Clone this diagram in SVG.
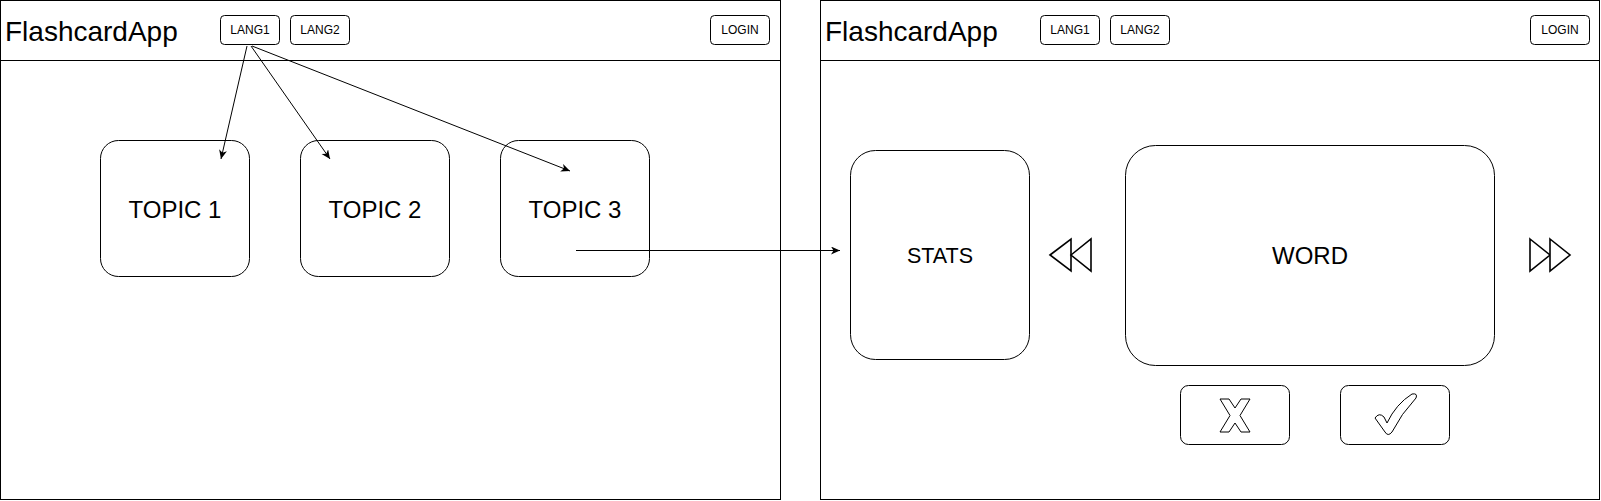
<svg xmlns="http://www.w3.org/2000/svg" width="1601" height="501" viewBox="0 0 1601 501">
<style>
.frame{fill:#fff;stroke:#000;stroke-width:1}
.hdr{stroke:#000;stroke-width:1}
.box{fill:#fff;stroke:#000;stroke-width:1}
.t{font-family:"Liberation Sans",Arial,sans-serif;fill:#000}
.icon{fill:#fff;stroke:#000;stroke-width:1.6;stroke-linejoin:miter}
.glyph{fill:#fff;stroke:#000;stroke-width:1;stroke-linejoin:round}
.edge{fill:none;stroke:#000;stroke-width:1}
</style>
<defs>
<marker id="arr" markerUnits="userSpaceOnUse" markerWidth="10" markerHeight="10" refX="9" refY="4" orient="auto">
<path d="M0,0 L9,4 L0,8 L2.5,4 Z" fill="#000"/>
</marker>
</defs>
<rect width="1601" height="501" fill="#fff"/>
<g id="screen-left">
<rect class="frame" x="0.5" y="0.5" width="780" height="499"/>
<line class="hdr" x1="0.5" y1="60.5" x2="780.5" y2="60.5"/>
<text class="t" x="5" y="40.5" font-size="28">FlashcardApp</text>
</g>
<g id="screen-right">
<rect class="frame" x="820.5" y="0.5" width="779" height="499"/>
<line class="hdr" x1="820.5" y1="60.5" x2="1599.5" y2="60.5"/>
<text class="t" x="825" y="40.5" font-size="28">FlashcardApp</text>
</g>
<g id="lang1-left"><rect class="box" x="220.5" y="15.5" width="59" height="29" rx="4"/><text class="t" x="250" y="34.3" font-size="12" text-anchor="middle">LANG1</text></g>
<g id="lang2-left"><rect class="box" x="290.5" y="15.5" width="59" height="29" rx="4"/><text class="t" x="320" y="34.3" font-size="12" text-anchor="middle">LANG2</text></g>
<g id="login-left"><rect class="box" x="710.5" y="15.5" width="59" height="29" rx="4"/><text class="t" x="740" y="34.3" font-size="12" text-anchor="middle">LOGIN</text></g>
<g id="lang1-right"><rect class="box" x="1040.5" y="15.5" width="59" height="29" rx="4"/><text class="t" x="1070" y="34.3" font-size="12" text-anchor="middle">LANG1</text></g>
<g id="lang2-right"><rect class="box" x="1110.5" y="15.5" width="59" height="29" rx="4"/><text class="t" x="1140" y="34.3" font-size="12" text-anchor="middle">LANG2</text></g>
<g id="login-right"><rect class="box" x="1530.5" y="15.5" width="59" height="29" rx="4"/><text class="t" x="1560" y="34.3" font-size="12" text-anchor="middle">LOGIN</text></g>
<g id="topic1"><rect class="box" x="100.5" y="140.5" width="149" height="136" rx="18"/><text class="t" x="175" y="218" font-size="24" text-anchor="middle">TOPIC 1</text></g>
<g id="topic2"><rect class="box" x="300.5" y="140.5" width="149" height="136" rx="18"/><text class="t" x="375" y="218" font-size="24" text-anchor="middle">TOPIC 2</text></g>
<g id="topic3"><rect class="box" x="500.5" y="140.5" width="149" height="136" rx="18"/><text class="t" x="575" y="218" font-size="24" text-anchor="middle">TOPIC 3</text></g>
<g id="stats"><rect class="box" x="850.5" y="150.5" width="179" height="209" rx="25"/><text class="t" x="940" y="263" font-size="21.5" text-anchor="middle">STATS</text></g>
<g id="word"><rect class="box" x="1125.5" y="145.5" width="369" height="220" rx="30"/><text class="t" x="1310" y="264" font-size="24" text-anchor="middle">WORD</text></g>
<g id="rewind">
<polygon class="icon" points="1050,255 1071,239 1071,271"/>
<polygon class="icon" points="1071,255 1091,239 1091,271"/>
</g>
<g id="forward">
<polygon class="icon" points="1530,239 1550,255 1530,271"/>
<polygon class="icon" points="1550,239 1570,255 1550,271"/>
</g>
<g id="btn-wrong">
<rect class="box" x="1180.5" y="385.5" width="109" height="59" rx="8"/>
<polygon class="glyph" points="1220,399 1229,399 1235,408 1241,399 1250,399 1240,415.5 1250,432 1241,432 1235,423 1229,432 1220,432 1230,415.5"/>
</g>
<g id="btn-right">
<rect class="box" x="1340.5" y="385.5" width="109" height="59" rx="8"/>
<path class="glyph" d="M1375,418 Q1379,412 1384,417 L1387,423 Q1396,404 1412,394 Q1418,393 1416,398 Q1401,414 1392,432 Q1388,437 1385,432 Z"/>
</g>
<g id="connectors">
<line class="edge" x1="247" y1="46" x2="221" y2="159" marker-end="url(#arr)"/>
<line class="edge" x1="251" y1="46" x2="330" y2="159" marker-end="url(#arr)"/>
<line class="edge" x1="252" y1="46" x2="570" y2="171" marker-end="url(#arr)"/>
<line class="edge" x1="576" y1="250.5" x2="840" y2="250.5" marker-end="url(#arr)"/>
</g>
</svg>
